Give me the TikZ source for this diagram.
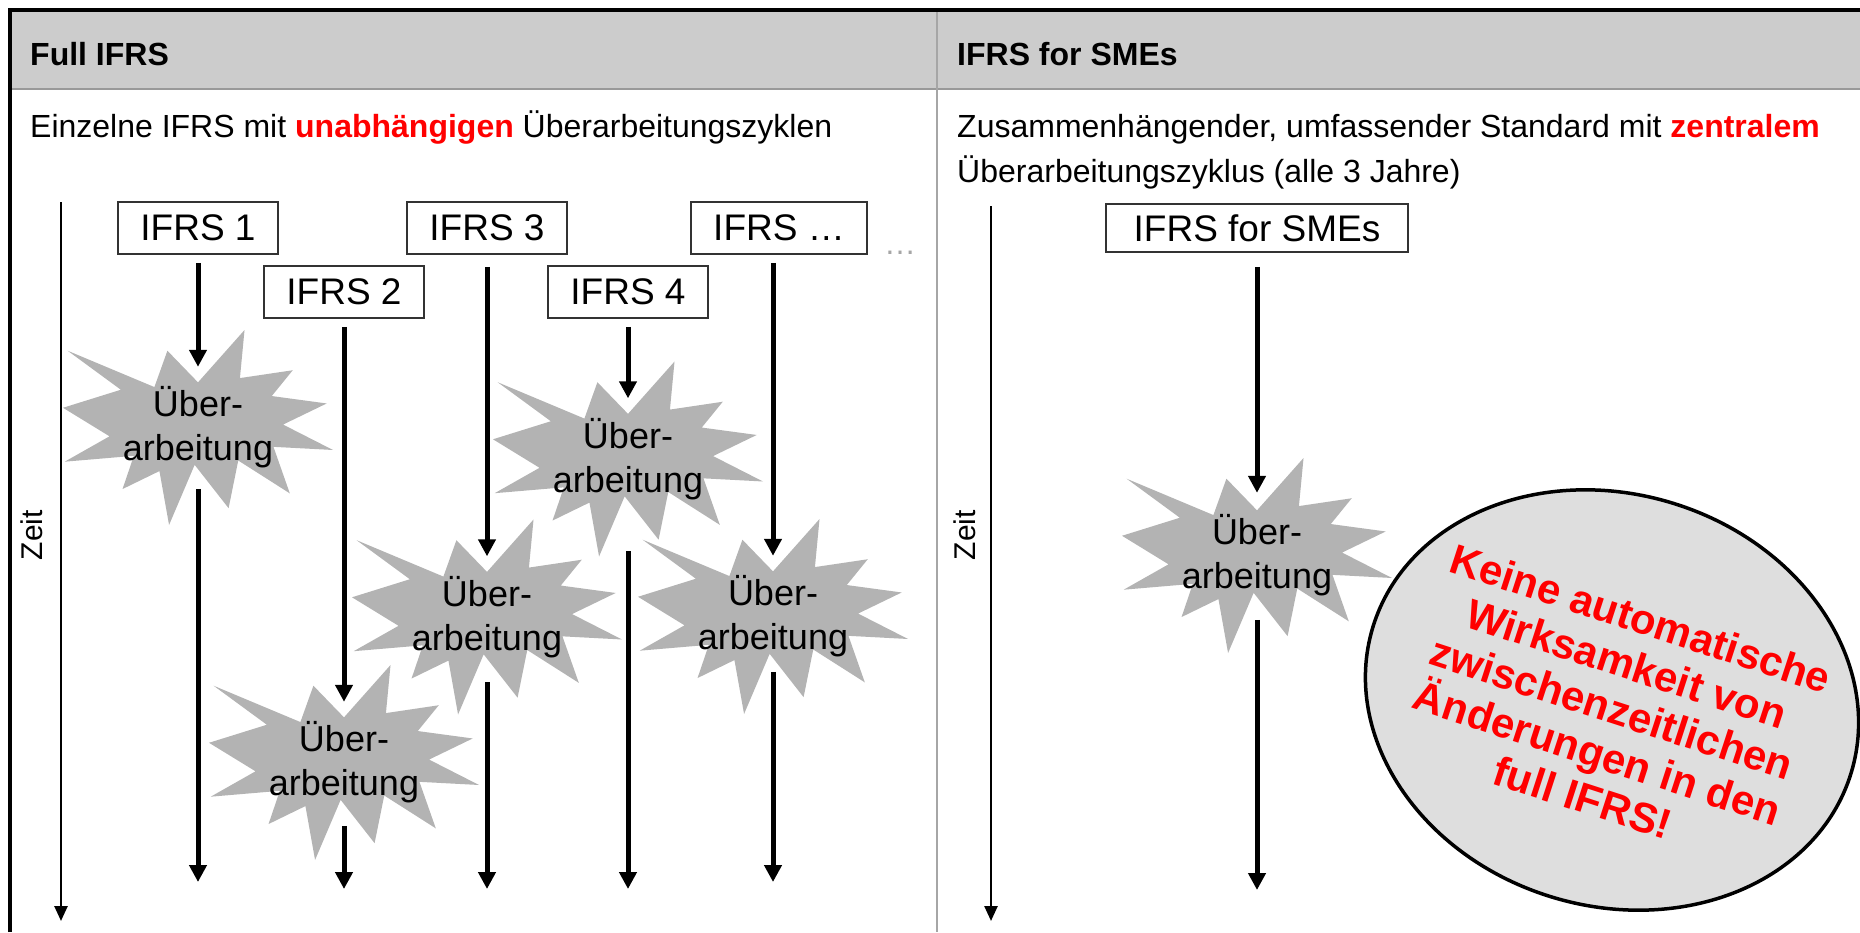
\documentclass[tikz,border=0pt]{standalone}
\usepackage{fontspec}
\setmainfont{Liberation Sans}
\usetikzlibrary{arrows.meta,shapes.geometric}
\definecolor{hdrfill}{HTML}{CCCCCC}
\definecolor{hdrline}{HTML}{999999}
\definecolor{divline}{HTML}{A6A6A6}
\definecolor{starcol}{HTML}{B3B3B3}
\definecolor{ellfill}{HTML}{DEDEDE}
\definecolor{boxline}{HTML}{333333}
\definecolor{dotcol}{HTML}{A6A6A6}
\definecolor{hired}{HTML}{FF0000}
\newcommand\burst[2]{%
  \fill[starcol, shift={(#1-135,#2-97.5)}, x=1.25pt, y=-0.90278pt]
    (108,58) -- (145.22,0) -- (141.55,53.25) -- (183.80,44.57) -- (167.02,73.15)
    -- (210.97,81.37) -- (176.07,104.75) -- (216,132.90) -- (168.37,129.42)
    -- (181.45,180.95) -- (140.20,144.57) -- (132.47,197.37) -- (105.32,149.35)
    -- (84.85,216) -- (77.15,156.27) -- (47.62,176.17) -- (56.67,139.37)
    -- (1.35,145.87) -- (37.22,117.75) -- (0,86.15) -- (46.27,66.17)
    -- (3.70,22.95) -- (73.12,63.20) -- (83.52,22.95) -- cycle;}
\begin{document}
\begin{tikzpicture}[x=1pt,y=-1pt,
  stdbox/.style={draw=boxline, line width=1.5pt, fill=white, minimum width=160pt,
    minimum height=52pt, inner sep=0pt, font=\fontsize{37}{44}\selectfont},
  startext/.style={minimum width=270pt, minimum height=195pt, inner sep=0pt,
    align=center, font=\fontsize{36}{44}\selectfont},
  arr/.style={line width=5pt, -{Triangle[width=17pt,length=17pt]}},
  zarr/.style={line width=2.5pt, -{Triangle[width=13pt,length=15pt]}},
  txt/.style={anchor=base west, inner sep=0pt, font=\fontsize{32}{45}\selectfont},
  hd/.style={anchor=base west, inner sep=0pt, font=\fontsize{32}{38}\selectfont\bfseries},
  zeit/.style={rotate=90, inner sep=0pt, font=\fontsize{30}{36}\selectfont}]
\useasboundingbox (0,0) rectangle (1860,932);
% frame
\fill[hdrfill] (10,10) rectangle (1860,89);
\draw[hdrline, line width=2.5pt] (10,89) -- (1860,89);
\draw[divline, line width=2.5pt] (937,10) -- (937,932);
\draw[black, line width=4pt] (10,932) -- (10,10) -- (1860,10);
% headers and texts
\node[hd] (h1) at (30,65) {Full IFRS};
\node[hd] (h2) at (957,65) {IFRS for SMEs};
\node[txt] (t1) at (30,137) {Einzelne IFRS mit {\bfseries\color{hired}unabhängigen} Überarbeitungszyklen};
\node[txt] (t2) at (957,137) {Zusammenhängender, umfassender Standard mit {\bfseries\color{hired}zentralem}};
\node[txt] (t3) at (957,182) {Überarbeitungszyklus (alle 3 Jahre)};
% time axes
\coordinate (z1a) at (61,202);
\coordinate (z1b) at (61,921);
\coordinate (z2a) at (991,206);
\coordinate (z2b) at (991,921);
\draw[zarr] (z1a) -- (z1b);
\draw[zarr] (z2a) -- (z2b);
\node[zeit] (zl1) at (32,535) {Zeit};
\node[zeit] (zl2) at (965,535) {Zeit};
% starbursts
\burst{198}{427.5}
\burst{344}{762.5}
\burst{487}{617}
\burst{628}{459}
\burst{773}{616.5}
\burst{1257}{555.5}
\node[startext] (s1) at (198,427.5) {Über-\\arbeitung};
\node[startext] (s2) at (344,762.5) {Über-\\arbeitung};
\node[startext] (s3) at (487,617) {Über-\\arbeitung};
\node[startext] (s4) at (628,459) {Über-\\arbeitung};
\node[startext] (s5) at (773,616.5) {Über-\\arbeitung};
\node[startext] (s6) at (1257,555.5) {Über-\\arbeitung};
% boxes
\node[stdbox] (b1) at (198,228) {IFRS 1};
\node[stdbox] (b2) at (344,292) {IFRS 2};
\node[stdbox] (b3) at (487,228) {IFRS 3};
\node[stdbox] (b4) at (628,292) {IFRS 4};
\node[stdbox, minimum width=176pt] (b5) at (779,228) {IFRS …};
\node[stdbox, minimum width=302pt, minimum height=48pt] (bs) at (1257,228) {IFRS for SMEs};
\node[anchor=base, inner sep=0pt, text=dotcol, font=\fontsize{32}{38}\selectfont] (dots) at (900,254) {…};
% connectors
\coordinate (t5) at (b5.south -| s5.center);
\draw[arr] ([yshift=-8pt]b1.south) -- ([yshift=-37pt]s1.north);
\draw[arr] ([yshift=-8pt]b2.south) -- ([yshift=-37pt]s2.north);
\draw[arr] ([yshift=-12pt]b3.south) -- ([yshift=-37pt]s3.north);
\draw[arr] ([yshift=-8pt]b4.south) -- ([yshift=-37pt]s4.north);
\draw[arr] ([yshift=-8pt]t5) -- ([yshift=-37pt]s5.north);
\draw[arr] ([yshift=-14pt]bs.south) -- ([yshift=-35pt]s6.north);
\coordinate (e1) at (198,882);
\coordinate (e2) at (344,889);
\coordinate (e3) at (487,889);
\coordinate (e4) at (628,889);
\coordinate (e5) at (773,882);
\coordinate (e6) at (1257,890);
\draw[arr] ([yshift=-159pt]s1.north) -- (e1);
\draw[arr] ([yshift=-161pt]s2.north) -- (e2);
\draw[arr] ([yshift=-163pt]s3.north) -- (e3);
\draw[arr] ([yshift=-190pt]s4.north) -- (e4);
\draw[arr] ([yshift=-153pt]s5.north) -- (e5);
\draw[arr] ([yshift=-162pt]s6.north) -- (e6);
% ellipse note
\node[ellipse, draw=black, fill=ellfill, line width=3.5pt, inner sep=0pt,
  minimum width=500pt, minimum height=412pt, rotate=-17] (el) at (1612,700) {};
\node[rotate=-18, align=center, inner sep=0pt, text=hired,
  font=\fontsize{42}{47}\selectfont\bfseries] (note) at (1612,708)
  {Keine automatische\\Wirksamkeit von\\zwischenzeitlichen\\Änderungen in den\\full IFRS!};
\end{tikzpicture}
\end{document}
